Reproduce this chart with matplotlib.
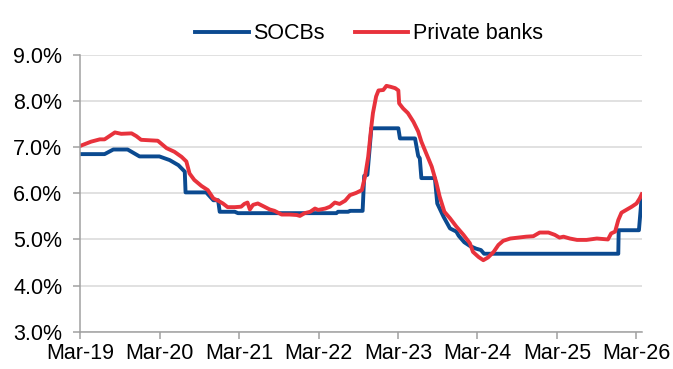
import numpy as np
import matplotlib
matplotlib.use('Agg')
import matplotlib.pyplot as plt

plt.rcParams['font.family'] = ['Liberation Sans', 'DejaVu Sans']

# time in decimal years (Mar-19 = 2019.167)
socb_t = [2019.167, 2019.47, 2019.58, 2019.76, 2019.91, 2020.16, 2020.29, 2020.40, 2020.48,
          2020.49, 2020.75, 2020.84, 2020.90, 2020.92, 2021.11, 2021.15, 2022.39, 2022.41,
          2022.54, 2022.56, 2022.69, 2022.72, 2022.74, 2022.78, 2022.83, 2023.17, 2023.19,
          2023.38, 2023.42, 2023.44, 2023.46, 2023.63, 2023.66, 2023.74, 2023.82, 2023.90,
          2023.93, 2024.00, 2024.07, 2024.15, 2024.21, 2024.25, 2025.94, 2025.945, 2026.19,
          2026.20, 2026.235]
socb_v = [6.85, 6.85, 6.95, 6.95, 6.80, 6.80, 6.72, 6.61, 6.47,
          6.02, 6.02, 5.85, 5.85, 5.60, 5.60, 5.57, 5.57, 5.60,
          5.60, 5.62, 5.62, 5.62, 6.38, 6.40, 7.41, 7.41, 7.19,
          7.19, 6.81, 6.76, 6.33, 6.33, 5.78, 5.49, 5.24, 5.17,
          5.08, 4.94, 4.86, 4.80, 4.77, 4.69, 4.69, 5.20, 5.20,
          5.20, 5.92]

priv_t = [2019.167, 2019.30, 2019.41, 2019.47, 2019.60, 2019.68, 2019.81, 2019.87, 2019.93,
          2020.14, 2020.25, 2020.35, 2020.44, 2020.50, 2020.54, 2020.60, 2020.69, 2020.77,
          2020.84, 2020.90, 2020.96, 2021.02, 2021.11, 2021.19, 2021.23, 2021.27, 2021.30,
          2021.34, 2021.40, 2021.47, 2021.55, 2021.61, 2021.70, 2021.80, 2021.89, 2021.93,
          2021.99, 2022.06, 2022.12, 2022.16, 2022.25, 2022.31, 2022.37, 2022.43, 2022.50,
          2022.56, 2022.64, 2022.71, 2022.75, 2022.79, 2022.83, 2022.85, 2022.89, 2022.92,
          2022.98, 2023.02, 2023.07, 2023.13, 2023.17, 2023.18, 2023.23, 2023.29, 2023.36,
          2023.42, 2023.46, 2023.52, 2023.59, 2023.65, 2023.69, 2023.75, 2023.82, 2023.90,
          2023.99, 2024.07, 2024.11, 2024.18, 2024.24, 2024.30, 2024.37, 2024.43, 2024.49,
          2024.58, 2024.68, 2024.78, 2024.87, 2024.95, 2025.06, 2025.14, 2025.20, 2025.25,
          2025.33, 2025.42, 2025.54, 2025.67, 2025.81, 2025.85, 2025.90, 2025.94, 2025.98,
          2026.04, 2026.11, 2026.17, 2026.21, 2026.235]
priv_v = [7.03, 7.12, 7.17, 7.17, 7.32, 7.29, 7.30, 7.24, 7.16,
          7.14, 6.98, 6.90, 6.79, 6.69, 6.43, 6.29, 6.16, 6.07,
          5.89, 5.84, 5.78, 5.70, 5.70, 5.71, 5.77, 5.80, 5.65,
          5.75, 5.78, 5.72, 5.65, 5.62, 5.54, 5.54, 5.53, 5.51,
          5.57, 5.60, 5.67, 5.64, 5.67, 5.71, 5.80, 5.77, 5.84,
          5.96, 6.01, 6.07, 6.36, 6.79, 7.45, 7.74, 8.10, 8.23,
          8.24, 8.33, 8.31, 8.28, 8.23, 7.95, 7.84, 7.74, 7.55,
          7.34, 7.12, 6.87, 6.58, 6.22, 5.93, 5.60, 5.46, 5.28,
          5.10, 4.92, 4.73, 4.62, 4.55, 4.61, 4.73, 4.88, 4.97,
          5.02, 5.04, 5.06, 5.07, 5.15, 5.15, 5.10, 5.04, 5.06,
          5.02, 4.99, 4.99, 5.02, 5.00, 5.13, 5.17, 5.42, 5.58,
          5.64, 5.71, 5.78, 5.89, 5.98]

tick_years = [2019, 2020, 2021, 2022, 2023, 2024, 2025, 2026]
tick_labels = ['Mar-19', 'Mar-20', 'Mar-21', 'Mar-22', 'Mar-23', 'Mar-24', 'Mar-25', 'Mar-26']
y_ticks = [3, 4, 5, 6, 7, 8, 9]

blue = '#0B4A90'
red = '#E8323C'

fig = plt.figure(figsize=(6.73, 3.69), dpi=100)
ax = fig.add_axes([0.1196, 0.1011, 0.8339, 0.750])

ax.plot(socb_t, socb_v, color=blue, linewidth=2.8, label='SOCBs')
ax.plot(priv_t, priv_v, color=red, linewidth=2.8, label='Private banks')

ax.set_xlim(2019.167, 2026.235)
ax.set_ylim(3, 9)
ax.set_xticks([y + 2 / 12 for y in tick_years])
ax.set_xticklabels(tick_labels)
ax.set_yticks(y_ticks)
ax.set_yticklabels([f'{v:.1f}%' for v in y_ticks])

ax.grid(axis='y', color='#D9D9D9', linewidth=1.1)
ax.set_axisbelow(True)
for s in ['top', 'right']:
    ax.spines[s].set_visible(False)
for s in ['left', 'bottom']:
    ax.spines[s].set_color('#A0A0A0')
    ax.spines[s].set_linewidth(1.1)
ax.tick_params(axis='both', colors='#A0A0A0', labelcolor='black', labelsize=15.5,
               length=5, width=1.1)
ax.tick_params(axis='x', pad=3)
ax.tick_params(axis='y', pad=8)

fig.legend(loc='upper center', bbox_to_anchor=(0.548, 0.99), ncol=2, frameon=False,
           fontsize=15.5, handlelength=2.5, handletextpad=0.2, columnspacing=1.4)

fig.savefig('out.png', dpi=100)
